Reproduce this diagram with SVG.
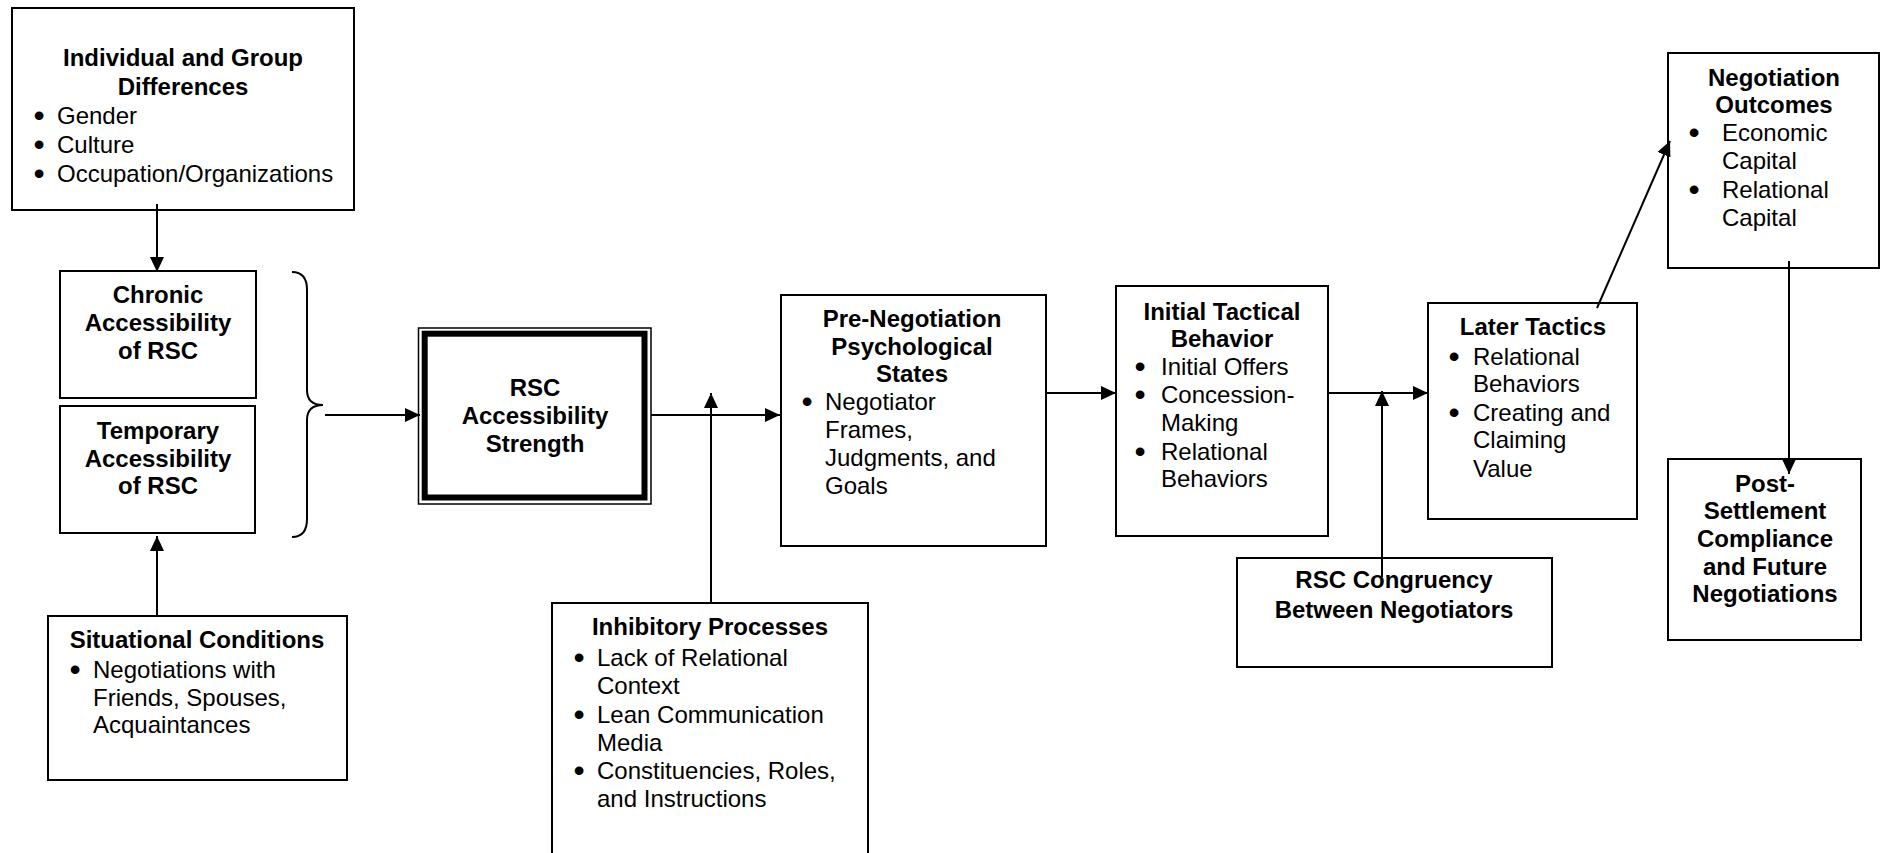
<svg xmlns="http://www.w3.org/2000/svg" width="1886" height="853" viewBox="0 0 1886 853">
<defs>
<style>
.box{fill:#fff;stroke:#000;stroke-width:2}
.t{font-family:"Liberation Sans",Arial,sans-serif;font-size:24px;fill:#000}
.b{font-weight:bold}
.c{text-anchor:middle}
.bu{font-family:"Liberation Sans",Arial,sans-serif;font-size:32px;fill:#000;text-anchor:middle}
.con{fill:none;stroke:#000;stroke-width:2}
</style>
<marker id="ah" markerUnits="userSpaceOnUse" markerWidth="15" markerHeight="14" refX="15" refY="7" orient="auto">
<path d="M0,0 L15,7 L0,14 z" fill="#000"/>
</marker>
</defs>
<rect width="1886" height="853" fill="#fff"/>

<g id="individual">
<rect class="box" x="12" y="8" width="342" height="202"/>
<text class="t b c" x="183" y="66">Individual and Group</text>
<text class="t b c" x="183" y="95">Differences</text>
<text class="bu" x="39" y="126">•</text><text class="t" x="57" y="124">Gender</text>
<text class="bu" x="39" y="155">•</text><text class="t" x="57" y="153">Culture</text>
<text class="bu" x="39" y="184">•</text><text class="t" x="57" y="182">Occupation/Organizations</text>
</g>

<g id="chronic">
<rect class="box" x="60" y="271" width="196" height="127"/>
<text class="t b c" x="158" y="303">Chronic</text>
<text class="t b c" x="158" y="331">Accessibility</text>
<text class="t b c" x="158" y="359">of RSC</text>
</g>

<g id="temporary">
<rect class="box" x="60" y="406" width="195" height="127"/>
<text class="t b c" x="158" y="439">Temporary</text>
<text class="t b c" x="158" y="467">Accessibility</text>
<text class="t b c" x="158" y="494">of RSC</text>
</g>

<g id="brace">
<path class="con" d="M292,272 Q307,272 307,290 L307,390 Q307,405 323,405 Q307,405 307,420 L307,519 Q307,537 292,537"/>
</g>

<g id="situational">
<rect class="box" x="48" y="616" width="299" height="164"/>
<text class="t b c" x="197" y="648">Situational Conditions</text>
<text class="bu" x="75" y="680">•</text><text class="t" x="93" y="678">Negotiations with</text>
<text class="t" x="93" y="706">Friends, Spouses,</text>
<text class="t" x="93" y="733">Acquaintances</text>
</g>

<g id="rsc">
<rect x="418.5" y="328" width="232.5" height="176" fill="#fff" stroke="#000" stroke-width="1.5"/>
<rect x="424.7" y="333.7" width="219.8" height="163.8" fill="none" stroke="#000" stroke-width="6"/>
<text class="t b c" x="535" y="396">RSC</text>
<text class="t b c" x="535" y="424">Accessibility</text>
<text class="t b c" x="535" y="452">Strength</text>
</g>

<g id="inhibitory">
<rect class="box" x="552" y="603" width="316" height="300"/>
<text class="t b c" x="710" y="635">Inhibitory Processes</text>
<text class="bu" x="579" y="668">•</text><text class="t" x="597" y="666">Lack of Relational</text>
<text class="t" x="597" y="694">Context</text>
<text class="bu" x="579" y="725">•</text><text class="t" x="597" y="723">Lean Communication</text>
<text class="t" x="597" y="751">Media</text>
<text class="bu" x="579" y="781">•</text><text class="t" x="597" y="779">Constituencies, Roles,</text>
<text class="t" x="597" y="807">and Instructions</text>
</g>

<g id="prenegotiation">
<rect class="box" x="781" y="295" width="265" height="251"/>
<text class="t b c" x="912" y="327">Pre-Negotiation</text>
<text class="t b c" x="912" y="355">Psychological</text>
<text class="t b c" x="912" y="382">States</text>
<text class="bu" x="807" y="412">•</text><text class="t" x="825" y="410">Negotiator</text>
<text class="t" x="825" y="438">Frames,</text>
<text class="t" x="825" y="466">Judgments, and</text>
<text class="t" x="825" y="494">Goals</text>
</g>

<g id="initial">
<rect class="box" x="1116" y="286" width="212" height="250"/>
<text class="t b c" x="1222" y="320">Initial Tactical</text>
<text class="t b c" x="1222" y="347">Behavior</text>
<text class="bu" x="1140" y="377">•</text><text class="t" x="1161" y="375">Initial Offers</text>
<text class="bu" x="1140" y="405">•</text><text class="t" x="1161" y="403">Concession-</text>
<text class="t" x="1161" y="431">Making</text>
<text class="bu" x="1140" y="462">•</text><text class="t" x="1161" y="460">Relational</text>
<text class="t" x="1161" y="487">Behaviors</text>
</g>

<g id="congruency">
<rect class="box" x="1237" y="558" width="315" height="109"/>
<text class="t b c" x="1394" y="588">RSC Congruency</text>
<text class="t b c" x="1394" y="618">Between Negotiators</text>
</g>

<g id="later">
<rect class="box" x="1428" y="303" width="209" height="216"/>
<text class="t b c" x="1533" y="335">Later Tactics</text>
<text class="bu" x="1454" y="367">•</text><text class="t" x="1473" y="365">Relational</text>
<text class="t" x="1473" y="392">Behaviors</text>
<text class="bu" x="1454" y="423">•</text><text class="t" x="1473" y="421">Creating and</text>
<text class="t" x="1473" y="448">Claiming</text>
<text class="t" x="1473" y="477">Value</text>
</g>

<g id="outcomes">
<rect class="box" x="1668" y="53" width="211" height="215"/>
<text class="t b c" x="1774" y="86">Negotiation</text>
<text class="t b c" x="1774" y="113">Outcomes</text>
<text class="bu" x="1694" y="143">•</text><text class="t" x="1722" y="141">Economic</text>
<text class="t" x="1722" y="169">Capital</text>
<text class="bu" x="1694" y="200">•</text><text class="t" x="1722" y="198">Relational</text>
<text class="t" x="1722" y="226">Capital</text>
</g>

<g id="postsettlement">
<rect class="box" x="1668" y="459" width="193" height="181"/>
<text class="t b c" x="1765" y="492">Post-</text>
<text class="t b c" x="1765" y="519">Settlement</text>
<text class="t b c" x="1765" y="547">Compliance</text>
<text class="t b c" x="1765" y="575">and Future</text>
<text class="t b c" x="1765" y="602">Negotiations</text>
</g>

<g id="connectors">
<path class="con" d="M157,204 L157,272" marker-end="url(#ah)"/>
<path class="con" d="M157,616 L157,536" marker-end="url(#ah)"/>
<path class="con" d="M325,415 L420,415" marker-end="url(#ah)"/>
<path class="con" d="M651,415 L780,415" marker-end="url(#ah)"/>
<path class="con" d="M711,603 L711,393" marker-end="url(#ah)"/>
<path class="con" d="M1046,393 L1116,393" marker-end="url(#ah)"/>
<path class="con" d="M1328,393 L1428,393" marker-end="url(#ah)"/>
<path class="con" d="M1382,577 L1382,391" marker-end="url(#ah)"/>
<path class="con" d="M1597,308 L1670,141" marker-end="url(#ah)"/>
<path class="con" d="M1789,261 L1789,474" marker-end="url(#ah)"/>
</g>
</svg>
